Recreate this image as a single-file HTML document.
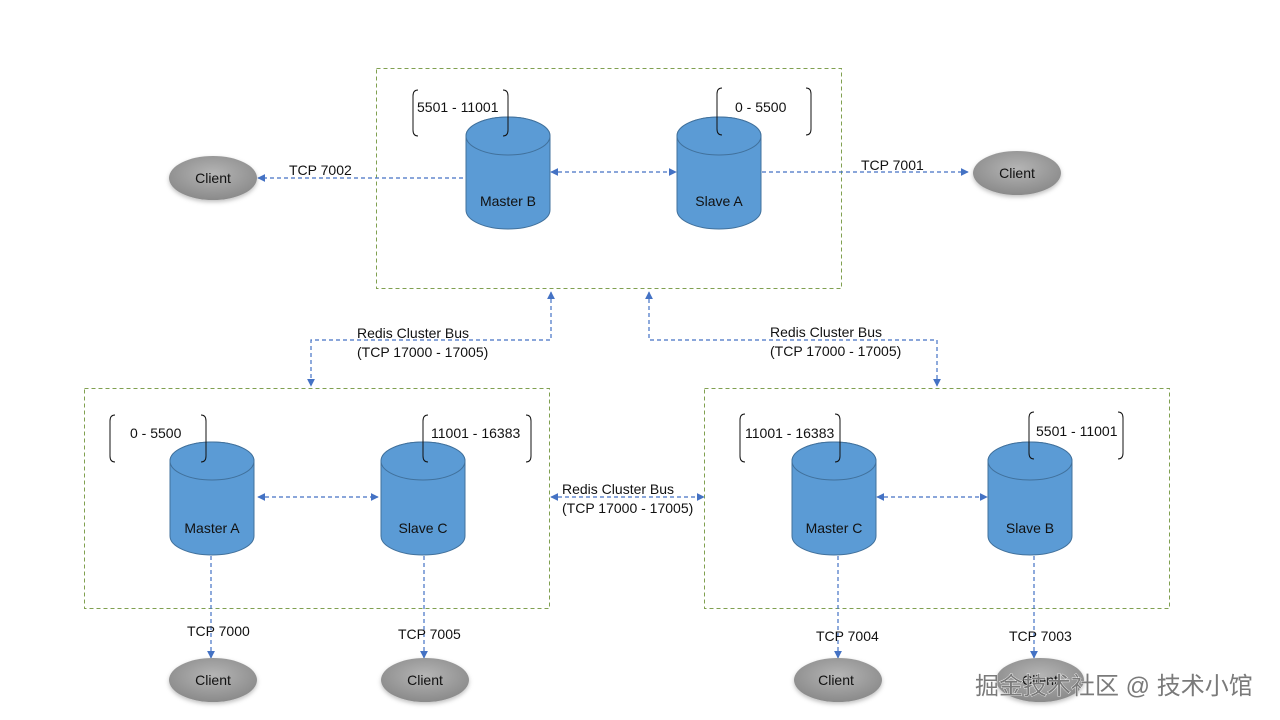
<!DOCTYPE html>
<html><head><meta charset="utf-8"><style>
html,body{margin:0;padding:0;background:#fff;width:1280px;height:720px;overflow:hidden}
text{font-family:"Liberation Sans","Noto Sans CJK SC",sans-serif;font-size:14px;fill:#111}
</style></head><body>
<svg width="1280" height="720" viewBox="0 0 1280 720" xmlns="http://www.w3.org/2000/svg">
<defs>
<marker id="a" viewBox="0 0 10 10" refX="9" refY="5" markerWidth="8" markerHeight="8" orient="auto-start-reverse" markerUnits="userSpaceOnUse"><path d="M0,0 L10,5 L0,10 Z" fill="#4472c4"/></marker>
<radialGradient id="g" cx="50%" cy="40%" r="60%"><stop offset="0" stop-color="#b5b5b5"/><stop offset="1" stop-color="#8a8a8a"/></radialGradient>
<filter id="s" x="-20%" y="-20%" width="140%" height="150%"><feDropShadow dx="0" dy="2" stdDeviation="2" flood-color="#000" flood-opacity="0.25"/></filter>
</defs>
<g fill="none" stroke="#80a050" stroke-width="1" stroke-dasharray="4,3">
<rect x="376.5" y="68.5" width="465" height="220"/>
<rect x="84.5" y="388.5" width="465" height="220"/>
<rect x="704.5" y="388.5" width="465" height="220"/>
</g>
<g fill="none" stroke="#4472c4" stroke-width="1.2" stroke-dasharray="4,3">
<path d="M551,172 L676,172" marker-start="url(#a)" marker-end="url(#a)"/>
<path d="M463,178 L258,178" marker-end="url(#a)"/>
<path d="M762,172 L968,172" marker-end="url(#a)"/>
<path d="M551,292 L551,340 L311,340 L311,386" marker-start="url(#a)" marker-end="url(#a)"/>
<path d="M649,292 L649,340 L937,340 L937,386" marker-start="url(#a)" marker-end="url(#a)"/>
<path d="M551,497 L704,497" marker-start="url(#a)" marker-end="url(#a)"/>
<path d="M258,497 L378,497" marker-start="url(#a)" marker-end="url(#a)"/>
<path d="M877,497 L987,497" marker-start="url(#a)" marker-end="url(#a)"/>
<path d="M211,556 L211,658" marker-end="url(#a)"/>
<path d="M424,556 L424,658" marker-end="url(#a)"/>
<path d="M838,556 L838,658" marker-end="url(#a)"/>
<path d="M1034,556 L1034,658" marker-end="url(#a)"/>
</g>
<g fill="#5b9bd5" stroke="#41719c" stroke-width="1">
<path d="M466,136 A42,19 0 0 1 550,136 L550,210 A42,19 0 0 1 466,210 Z"/><ellipse cx="508" cy="136" rx="42" ry="19"/>
<path d="M677,136 A42,19 0 0 1 761,136 L761,210 A42,19 0 0 1 677,210 Z"/><ellipse cx="719" cy="136" rx="42" ry="19"/>
<path d="M170,461 A42,19 0 0 1 254,461 L254,536 A42,19 0 0 1 170,536 Z"/><ellipse cx="212" cy="461" rx="42" ry="19"/>
<path d="M381,461 A42,19 0 0 1 465,461 L465,536 A42,19 0 0 1 381,536 Z"/><ellipse cx="423" cy="461" rx="42" ry="19"/>
<path d="M792,461 A42,19 0 0 1 876,461 L876,536 A42,19 0 0 1 792,536 Z"/><ellipse cx="834" cy="461" rx="42" ry="19"/>
<path d="M988,461 A42,19 0 0 1 1072,461 L1072,536 A42,19 0 0 1 988,536 Z"/><ellipse cx="1030" cy="461" rx="42" ry="19"/>
</g>
<g fill="url(#g)" filter="url(#s)">
<ellipse cx="213" cy="178" rx="44" ry="22"/>
<ellipse cx="1017" cy="173" rx="44" ry="22"/>
<ellipse cx="213" cy="680" rx="44" ry="22"/>
<ellipse cx="425" cy="680" rx="44" ry="22"/>
<ellipse cx="838" cy="680" rx="44" ry="22"/>
<ellipse cx="1040" cy="680" rx="44" ry="22"/>
</g>
<g fill="none" stroke="#111" stroke-width="1">
<path d="M418,90 Q413,90 413,96 L413,130 Q413,136 418,136"/><path d="M503,90 Q508,90 508,96 L508,130 Q508,136 503,136"/>
<path d="M722,88 Q717,88 717,94 L717,129 Q717,135 722,135"/><path d="M806,88 Q811,88 811,94 L811,129 Q811,135 806,135"/>
<path d="M115,415 Q110,415 110,421 L110,456 Q110,462 115,462"/><path d="M201,415 Q206,415 206,421 L206,456 Q206,462 201,462"/>
<path d="M428,415 Q423,415 423,421 L423,456 Q423,462 428,462"/><path d="M526,415 Q531,415 531,421 L531,456 Q531,462 526,462"/>
<path d="M745,414 Q740,414 740,420 L740,456 Q740,462 745,462"/><path d="M835,414 Q840,414 840,420 L840,456 Q840,462 835,462"/>
<path d="M1034,412 Q1029,412 1029,418 L1029,453 Q1029,459 1034,459"/><path d="M1118,412 Q1123,412 1123,418 L1123,453 Q1123,459 1118,459"/>
</g>
<text x="417" y="112">5501 - 11001</text>
<text x="735" y="112">0 - 5500</text>
<text x="130" y="438">0 - 5500</text>
<text x="431" y="438">11001 - 16383</text>
<text x="745" y="438">11001 - 16383</text>
<text x="1036" y="436">5501 - 11001</text>
<g text-anchor="middle">
<text x="508" y="206">Master B</text>
<text x="719" y="206">Slave A</text>
<text x="212" y="533">Master A</text>
<text x="423" y="533">Slave C</text>
<text x="834" y="533">Master C</text>
<text x="1030" y="533">Slave B</text>
<text x="213" y="183">Client</text>
<text x="1017" y="178">Client</text>
<text x="213" y="685">Client</text>
<text x="425" y="685">Client</text>
<text x="836" y="685">Client</text>
<text x="1040" y="685">Client</text>
</g>
<text x="289" y="175">TCP 7002</text>
<text x="861" y="170">TCP 7001</text>
<text x="357" y="338">Redis Cluster Bus</text>
<text x="357" y="357">(TCP 17000 - 17005)</text>
<text x="770" y="337">Redis Cluster Bus</text>
<text x="770" y="356">(TCP 17000 - 17005)</text>
<text x="562" y="494">Redis Cluster Bus</text>
<text x="562" y="513">(TCP 17000 - 17005)</text>
<text x="187" y="636">TCP 7000</text>
<text x="398" y="639">TCP 7005</text>
<text x="816" y="641">TCP 7004</text>
<text x="1009" y="641">TCP 7003</text>
<text x="975" y="694" style="font-size:24px;fill:#7a7a7a;stroke:#fff;stroke-width:0.8;paint-order:stroke">掘金技术社区 @ 技术小馆</text>
</svg>
</body></html>
